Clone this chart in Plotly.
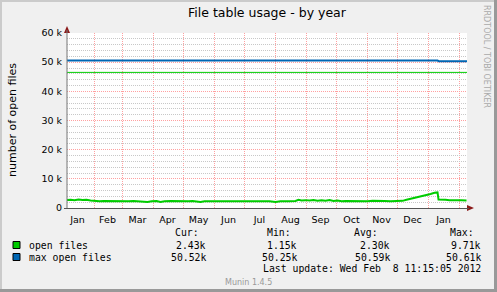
import plotly.graph_objects as go

# ---------------- data ----------------
open_dates = [
    "2011-01-04", "2011-01-08", "2011-01-12", "2011-01-16", "2011-01-20", "2011-01-24", "2011-01-28",
    "2011-02-01", "2011-02-06", "2011-02-10", "2011-02-15", "2011-02-20", "2011-02-25",
    "2011-03-02", "2011-03-07", "2011-03-12", "2011-03-17", "2011-03-22", "2011-03-26", "2011-03-30",
    "2011-04-04", "2011-04-08", "2011-04-12", "2011-04-18", "2011-04-24", "2011-04-30",
    "2011-05-06", "2011-05-10", "2011-05-14", "2011-05-18", "2011-05-22", "2011-05-28",
    "2011-06-04", "2011-06-10", "2011-06-16", "2011-06-20", "2011-06-26",
    "2011-07-02", "2011-07-10", "2011-07-18", "2011-07-26",
    "2011-08-01", "2011-08-06", "2011-08-14", "2011-08-21", "2011-08-24", "2011-08-27", "2011-08-31",
    "2011-09-04", "2011-09-08", "2011-09-12", "2011-09-16", "2011-09-20", "2011-09-24", "2011-09-28",
    "2011-10-02", "2011-10-06", "2011-10-10", "2011-10-16", "2011-10-24",
    "2011-11-01", "2011-11-06", "2011-11-12", "2011-11-18", "2011-11-24",
    "2011-12-01", "2011-12-06", "2011-12-10", "2011-12-14", "2011-12-18", "2011-12-22",
    "2011-12-26", "2011-12-30", "2012-01-03", "2012-01-07", "2012-01-10",
    "2012-01-11", "2012-01-14", "2012-01-18", "2012-01-22", "2012-01-26", "2012-01-30",
    "2012-02-03", "2012-02-08",
]
open_values = [
    2700, 2850, 2700, 2900, 2750, 2850, 2600,
    2450, 2350, 2400, 2350, 2400, 2300,
    2400, 2350, 2400, 2300, 2400, 2100, 2350,
    2400, 2050, 2350, 2400, 2300, 2350,
    2300, 2400, 2100, 2050, 2300, 2350,
    2300, 2400, 2450, 2350, 2300,
    2350, 2300, 2350, 2300,
    2050, 2300, 2350, 2400, 2800, 2600, 2700,
    2550, 2700, 2500, 2650, 2450, 2700, 2400,
    2600, 2350, 2400, 2350, 2400,
    2350, 2450, 2300, 2400, 2350,
    2400, 2450, 2800, 3100, 3500, 3800,
    4200, 4500, 4800, 5200, 5350,
    2900, 2750, 2800, 2700, 2750, 2650,
    2700, 2600,
]

max_dates = ["2011-01-04 11:15", "2012-01-10", "2012-01-11", "2012-02-08 11:15"]
max_values = [50610, 50610, 50350, 50350]

warning_level = 46500

x_start = "2011-01-04 11:15"
x_end = "2012-02-08 11:15"

month_label_dates = [
    "2011-01-15", "2011-02-14", "2011-03-16", "2011-04-15", "2011-05-16", "2011-06-15",
    "2011-07-16", "2011-08-16", "2011-09-15", "2011-10-16", "2011-11-15", "2011-12-16",
    "2012-01-16",
]
month_labels = ["Jan", "Feb", "Mar", "Apr", "May", "Jun", "Jul", "Aug", "Sep", "Oct", "Nov", "Dec", "Jan"]

y_tick_vals = [0, 10000, 20000, 30000, 40000, 50000, 60000]
y_tick_text = ["0", "10 k", "20 k", "30 k", "40 k", "50 k", "60 k"]

legend_names = ["open files", "max open files"]
legend_cur = ["2.43k", "50.52k"]
legend_min = ["1.15k", "50.25k"]
legend_avg = ["2.30k", "50.59k"]
legend_max = ["9.71k", "50.61k"]

GREEN = "#00CC00"
BLUE = "#0066B3"

# ---------------- layout geometry ----------------
W, H = 497, 292
L, R, T, B = 67, 30, 33, 84
PW, PH = W - L - R, H - T - B


def px(x):
    return (x - L) / PW


def py(y):
    return (H - B - y) / PH


fig = go.Figure()

fig.add_trace(go.Scatter(x=[x_start, x_end], y=[warning_level, warning_level], mode="lines",
                         line=dict(color=GREEN, width=1), hoverinfo="skip", showlegend=False))
fig.add_trace(go.Scatter(x=max_dates, y=max_values, mode="lines",
                         line=dict(color=BLUE, width=2), showlegend=False))
fig.add_trace(go.Scatter(x=open_dates, y=open_values, mode="lines",
                         line=dict(color=GREEN, width=2), showlegend=False))

mono = "DejaVu Sans Mono"
sans = "DejaVu Sans"
annotations = []


def txt(x, y, s, anchor="left", size=9.8, family=mono, color="#000000", angle=0):
    annotations.append(dict(x=px(x), y=py(y), xref="paper", yref="paper", text=s, showarrow=False,
                            xanchor=anchor, yanchor="middle", textangle=angle,
                            font=dict(family=family, size=size, color=color)))


# title
txt(267, 13, "File table usage - by year", anchor="center", size=12.5, family=sans)
# y title
txt(12, 120, "number of open files", anchor="center", size=11, family=sans, angle=-90)
# rrdtool credit
txt(487, 56, "RRDTOOL / TOBI OETIKER", anchor="center", size=8, family=sans, color="#AAAAAA", angle=90)

# legend header
txt(173, 232, "Cur:")
txt(265, 232, "Min:")
txt(352, 232, "Avg:")
txt(448, 232, "Max:")
rows_y = [245, 257]
for i, yy in enumerate(rows_y):
    txt(27, yy, legend_names[i])
    txt(208, yy, legend_cur[i], anchor="right")
    txt(299, yy, legend_min[i], anchor="right")
    txt(392, yy, legend_avg[i], anchor="right")
    txt(483, yy, legend_max[i], anchor="right")
txt(483, 268, "Last update: Wed Feb &nbsp;8 11:15:05 2012", anchor="right")
txt(248, 282, "Munin 1.4.5", anchor="center", size=8, family=sans, color="#999999")

shapes = []
# legend colour boxes
for yy, c in zip(rows_y, [GREEN, BLUE]):
    shapes.append(dict(type="rect", xref="paper", yref="paper", x0=px(13), x1=px(20),
                       y0=py(yy - 3.5), y1=py(yy + 3.5), fillcolor=c, line=dict(color="#000000", width=1)))
# axis arrows
ARROW = "#8B1A1A"
shapes.append(dict(type="path", xref="paper", yref="paper",
                   path=f"M {px(64)} {py(33)} L {px(67)} {py(26)} L {px(70)} {py(33)} Z",
                   fillcolor=ARROW, line=dict(color=ARROW, width=0)))
shapes.append(dict(type="path", xref="paper", yref="paper",
                   path=f"M {px(467)} {py(205)} L {px(474)} {py(208)} L {px(467)} {py(211)} Z",
                   fillcolor=ARROW, line=dict(color=ARROW, width=0)))
shapes.append(dict(type="line", xref="paper", yref="paper", x0=px(67), x1=px(67), y0=py(208), y1=py(30),
                   line=dict(color="#777777", width=1)))
shapes.append(dict(type="line", xref="paper", yref="paper", x0=px(64), x1=px(469), y0=py(208.5), y1=py(208.5),
                   line=dict(color="#555555", width=1)))
# image border
shapes.append(dict(type="line", xref="paper", yref="paper", x0=px(0), x1=px(W), y0=py(H - 1.5), y1=py(H - 1.5),
                   line=dict(color="#999999", width=3)))
shapes.append(dict(type="line", xref="paper", yref="paper", x0=px(W - 1.5), x1=px(W - 1.5), y0=py(0), y1=py(H),
                   line=dict(color="#999999", width=3)))
shapes.append(dict(type="line", xref="paper", yref="paper", x0=px(1), x1=px(1), y0=py(0), y1=py(H - 3),
                   line=dict(color="#CBCBCB", width=2)))
shapes.append(dict(type="line", xref="paper", yref="paper", x0=px(0), x1=px(W - 3), y0=py(1), y1=py(1),
                   line=dict(color="#CBCBCB", width=2)))

fig.update_layout(
    width=W, height=H,
    margin=dict(l=L, r=R, t=T, b=B, pad=0),
    paper_bgcolor="#F0F0F0",
    plot_bgcolor="#FFFFFF",
    showlegend=False,
    annotations=annotations,
    shapes=shapes,
    font=dict(family=sans, size=9.5, color="#000000"),
)

fig.update_xaxes(
    type="date", range=[x_start, x_end],
    tickmode="array", tickvals=month_label_dates, ticktext=month_labels,
    showgrid=False, ticks="", showline=False, zeroline=False, ticklabelstandoff=4,
    tickfont=dict(family=sans, size=9.5),
    minor=dict(dtick="M1", tick0="2011-01-01", showgrid=True, gridcolor="#FFA0A0",
               griddash="1px,1px", gridwidth=1, ticks=""),
)
fig.update_yaxes(
    range=[0, 60000], tickmode="array", tickvals=y_tick_vals, ticktext=y_tick_text,
    showgrid=True, gridcolor="#FFA0A0", griddash="1px,1px", gridwidth=1,
    ticks="", showline=False, zeroline=False, ticklabelstandoff=4,
    tickfont=dict(family=sans, size=9.5),
    minor=dict(dtick=2000, showgrid=True, gridcolor="#C8C8C8", griddash="1px,1px", gridwidth=1),
)

fig.write_html("out.html")
